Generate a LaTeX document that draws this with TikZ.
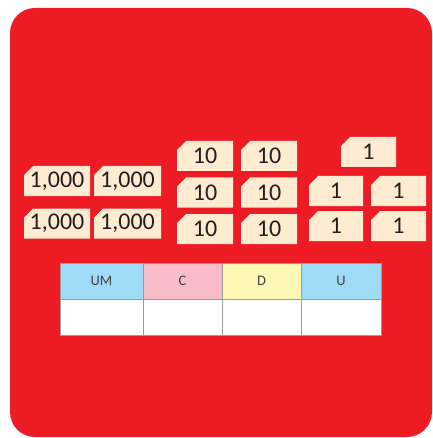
\documentclass[tikz,border=0pt]{standalone}
\usepackage{fontspec}
\setmainfont{Carlito}
\usetikzlibrary{shapes.misc}
\definecolor{redbg}{HTML}{ED1C24}
\definecolor{cardfill}{HTML}{FEEBD1}
\definecolor{txt}{HTML}{231F20}
\definecolor{hblue}{HTML}{9FDBF7}
\definecolor{hpink}{HTML}{F8BCC9}
\definecolor{hyellow}{HTML}{FEF8B7}
\definecolor{tgray}{HTML}{9B9B9B}
\tikzset{
  card/.style={chamfered rectangle, chamfered rectangle corners=north west,
    chamfered rectangle xsep=5pt, chamfered rectangle ysep=4pt,
    fill=cardfill, draw=none, inner sep=0pt, minimum height=30pt,
    text=txt, font=\fontsize{24}{25}\selectfont},
  cell/.style={rectangle, draw=tgray, line width=1pt, inner sep=0pt,
    minimum height=36pt, text=txt!85, font=\fontsize{14.5}{15}\selectfont},
}
\begin{document}
\begin{tikzpicture}[x=1pt,y=-1pt]
\useasboundingbox (0,0) rectangle (432,438);
\fill[redbg, rounded corners=25pt] (10,8) rectangle (432,437);
% thousands
\node[card, minimum width=66pt] (m1) at (57,181) {1,000};
\node[card, minimum width=67pt] (m2) at (127.5,181) {1,000};
\node[card, minimum width=66pt] (m3) at (57,223.5) {1,000};
\node[card, minimum width=67pt] (m4) at (127.5,223.5) {1,000};
% tens
\node[card, minimum width=56pt] (d1) at (205,156) {10};
\node[card, minimum width=56pt] (d2) at (269,156) {10};
\node[card, minimum width=56pt] (d3) at (205,192.5) {10};
\node[card, minimum width=56pt] (d4) at (269,192.5) {10};
\node[card, minimum width=56pt] (d5) at (205,229) {10};
\node[card, minimum width=56pt] (d6) at (269,229) {10};
% units
\node[card, minimum width=55pt] (u1) at (368.5,152) {1};
\node[card, minimum width=54pt] (u2) at (336,191) {1};
\node[card, minimum width=55pt] (u3) at (398.5,191) {1};
\node[card, minimum width=54pt] (u4) at (336,226) {1};
\node[card, minimum width=55pt] (u5) at (398.5,226) {1};
% table
\node[cell, fill=hblue, minimum width=83pt] (hUM) at (101.5,281) {UM};
\node[cell, fill=hpink, minimum width=79pt] (hC) at (182.5,281) {C};
\node[cell, fill=hyellow, minimum width=79pt] (hD) at (261.5,281) {D};
\node[cell, fill=hblue, minimum width=80pt] (hU) at (341,281) {U};
\node[cell, fill=white, minimum width=83pt] (bUM) at (101.5,317) {};
\node[cell, fill=white, minimum width=79pt] (bC) at (182.5,317) {};
\node[cell, fill=white, minimum width=79pt] (bD) at (261.5,317) {};
\node[cell, fill=white, minimum width=80pt] (bU) at (341,317) {};
\end{tikzpicture}
\end{document}
